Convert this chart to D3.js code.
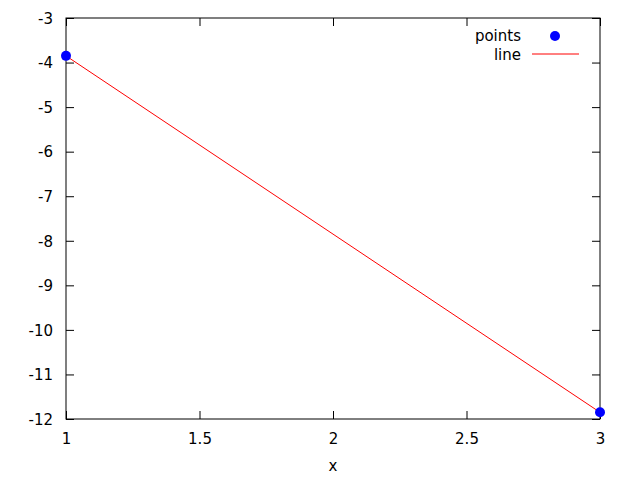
<!DOCTYPE html>
<html><head><meta charset="utf-8">
<script src="https://cdn.jsdelivr.net/npm/d3@7"></script>
<style>body{margin:0;background:#fff}text{font-family:"DejaVu Sans",sans-serif;font-size:15px;fill:#000}</style>
</head><body><svg id="c" width="640" height="480"></svg>
<script>
const xValues = [1, 3];
const pointValues = [-3.85, -11.85];
const lineValues = [-3.85, -11.85];
const xTicks = [1, 1.5, 2, 2.5, 3];
const yTicks = [-12, -11, -10, -9, -8, -7, -6, -5, -4, -3];
const seriesNames = ["points", "line"];
const xLabel = "x";

const svg = d3.select("#c");
const L = 66, R = 600, T = 18, B = 419;
const x = d3.scaleLinear().domain([1, 3]).range([L, R]);
const y = d3.scaleLinear().domain([-12, -3]).range([B, T]);
const tk = 8;
const fmt = d => String(d);

const g = svg.append("g");
const xa = g.append("g").attr("transform", `translate(0,${B})`)
  .call(d3.axisBottom(x).tickValues(xTicks).tickSize(-tk).tickPadding(14).tickFormat(fmt));
const xt = g.append("g").attr("transform", `translate(0,${T})`)
  .call(d3.axisTop(x).tickValues(xTicks).tickSize(-tk).tickFormat(""));
const ya = g.append("g").attr("transform", `translate(${L},0)`)
  .call(d3.axisLeft(y).tickValues(yTicks).tickSize(-tk).tickPadding(13).tickFormat(fmt));
const yr = g.append("g").attr("transform", `translate(${R},0)`)
  .call(d3.axisRight(y).tickValues(yTicks).tickSize(-tk).tickFormat(""));
[xa, xt, ya, yr].forEach(a => {
  a.select(".domain").remove();
  a.selectAll("line").attr("stroke", "#000").attr("stroke-width", 1);
  a.selectAll("text").attr("font-family", "DejaVu Sans, sans-serif").attr("font-size", 15).attr("fill", "#000");
});
ya.selectAll("text").attr("dy", "0.35em");
xa.selectAll("text").attr("dy", "0.71em");

g.append("rect").attr("x", L).attr("y", T).attr("width", R - L).attr("height", B - T)
  .attr("fill", "none").attr("stroke", "#000").attr("stroke-width", 1);

const data = xValues.map((v, i) => ({x: v, p: pointValues[i], l: lineValues[i]}));
g.append("path").datum(data)
  .attr("d", d3.line().x(d => x(d.x)).y(d => y(d.l)))
  .attr("fill", "none").attr("stroke", "#ff0000").attr("stroke-width", 1);
g.selectAll("circle.pt").data(data).enter().append("circle")
  .attr("cx", d => x(d.x)).attr("cy", d => y(d.p)).attr("r", 5).attr("fill", "#0000ff");

const lg = g.append("g");
lg.append("text").attr("x", 521).attr("y", 41).attr("text-anchor", "end").text(seriesNames[0]);
lg.append("circle").attr("cx", 555).attr("cy", 36).attr("r", 5).attr("fill", "#0000ff");
lg.append("text").attr("x", 521).attr("y", 60).attr("text-anchor", "end").text(seriesNames[1]);
lg.append("line").attr("x1", 532).attr("x2", 579).attr("y1", 54).attr("y2", 54).attr("stroke", "#ff0000").attr("stroke-width", 1);

g.append("text").attr("x", (L + R) / 2).attr("y", 471).attr("text-anchor", "middle").text(xLabel);
</script></body></html>
